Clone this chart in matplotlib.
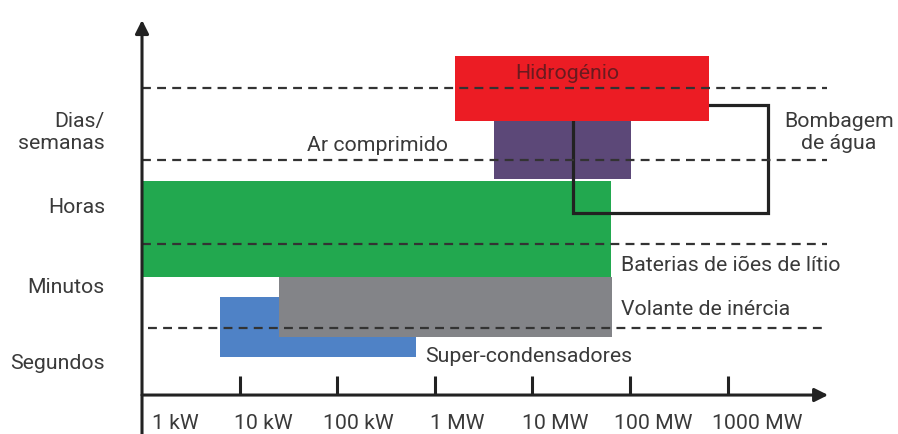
import matplotlib
matplotlib.use("Agg")
import matplotlib.pyplot as plt
import numpy as np

plt.rcParams['font.family'] = ['Roboto', 'DejaVu Sans']

# ---- data (power in kW, log scale; duration level units) ----
tech_names = ["Bombagem de água", "Hidrogénio", "Ar comprimido",
              "Baterias de iões de lítio", "Super-condensadores", "Volante de inércia"]
p_low  = [26000, 1600, 4050, 1, 6.3, 25.4]
p_high = [2600000, 645000, 102000, 64000, 640, 65500]
d_low  = [2.364, 3.558, 2.805, 1.532, 0.494, 0.753]
d_high = [3.766, 4.403, 3.558, 2.779, 1.273, 1.532]
colors = ["none", "#ec1c24", "#5c4878", "#22a84f", "#4f82c6", "#838488"]

tick_values = [10, 100, 1000, 10000, 100000, 1000000]
tick_labels = ["1 kW", "10 kW", "100 kW", "1 MW", "10 MW", "100 MW", "1000 MW"]
tick_label_pos = [2.2, 17.5, 164, 1700, 17000, 175000, 2000000]

dash_levels = [3.99, 3.05, 1.96, 0.87]
cat_labels = ["Dias/\nsemanas", "Horas", "Minutos", "Segundos"]
cat_levels = [3.41, 2.44, 1.40, 0.41]

# ---- figure ----
fig = plt.figure(figsize=(8.98, 4.34), dpi=100)
ax = fig.add_axes([0, 0, 1, 1])
ax.set_xscale('log')
ax.set_xlim(10**-1.455, 10**7.746)
ax.set_ylim(-0.506, 5.130)
ax.axis('off')

txtc = '#3a3a3a'
fs = 15.3
fw = 'normal'

zorders = {"Bombagem de água": 2.5, "Hidrogénio": 3, "Ar comprimido": 2,
           "Baterias de iões de lítio": 2, "Super-condensadores": 1.5,
           "Volante de inércia": 2}

# boxes
for name, x0, x1, y0, y1, c in zip(tech_names, p_low, p_high, d_low, d_high, colors):
    if c == "none":
        ax.fill([x0, x1, x1, x0], [y0, y0, y1, y1], facecolor='none',
                edgecolor='#222222', lw=2.3, zorder=zorders[name])
    else:
        ax.fill([x0, x1, x1, x0], [y0, y0, y1, y1], facecolor=c,
                edgecolor='none', zorder=zorders[name])

# dashed lines
for i, lv in enumerate(dash_levels):
    xs = 1.15 if i == 3 else 1.0
    ax.plot([xs, 10**7.02], [lv, lv], color='#333333', lw=1.6,
            linestyle=(0, (4.0, 2.8)), zorder=4, solid_capstyle='butt')

# axes with arrows
ax.annotate('', xy=(1, 4.87), xytext=(1, -0.6),
            arrowprops=dict(arrowstyle='-|>', lw=2.2, color='#222222',
                            mutation_scale=20, shrinkA=0, shrinkB=0), zorder=5)
ax.annotate('', xy=(10**7.03, 0), xytext=(1, 0),
            arrowprops=dict(arrowstyle='-|>', lw=2.2, color='#222222',
                            mutation_scale=20, shrinkA=0, shrinkB=0), zorder=5)
ax.vlines(tick_values, 0, 0.247, color='#222222', lw=2.2, zorder=5)

# tick labels
for lab, xp in zip(tick_labels, tick_label_pos):
    ax.text(xp, -0.37, lab, ha='center', va='center', fontsize=fs,
            color=txtc, fontweight=fw)

# category labels
for lab, lv in zip(cat_labels, cat_levels):
    ax.text(10**-0.38, lv, lab, ha='right', va='center', fontsize=fs,
            color=txtc, fontweight=fw, linespacing=1.2)

# tech labels
ax.text(10**4.36, 4.17, "Hidrogénio", ha='center', va='center', fontsize=fs,
        color='#6b1a1f', fontweight=fw, zorder=6)
ax.text(10**2.41, 3.24, "Ar comprimido", ha='center', va='center', fontsize=fs,
        color=txtc, fontweight=fw)
ax.text(10**7.14, 3.41, "Bombagem\nde água", ha='center', va='center', fontsize=fs,
        color=txtc, fontweight=fw, linespacing=1.2)
ax.text(10**4.91, 1.68, "Baterias de iões de lítio", ha='left', va='center',
        fontsize=fs, color=txtc, fontweight=fw)
ax.text(10**4.91, 1.11, "Volante de inércia", ha='left', va='center',
        fontsize=fs, color=txtc, fontweight=fw)
ax.text(10**2.90, 0.50, "Super-condensadores", ha='left', va='center',
        fontsize=fs, color=txtc, fontweight=fw)

fig.savefig('out.png', dpi=100)
